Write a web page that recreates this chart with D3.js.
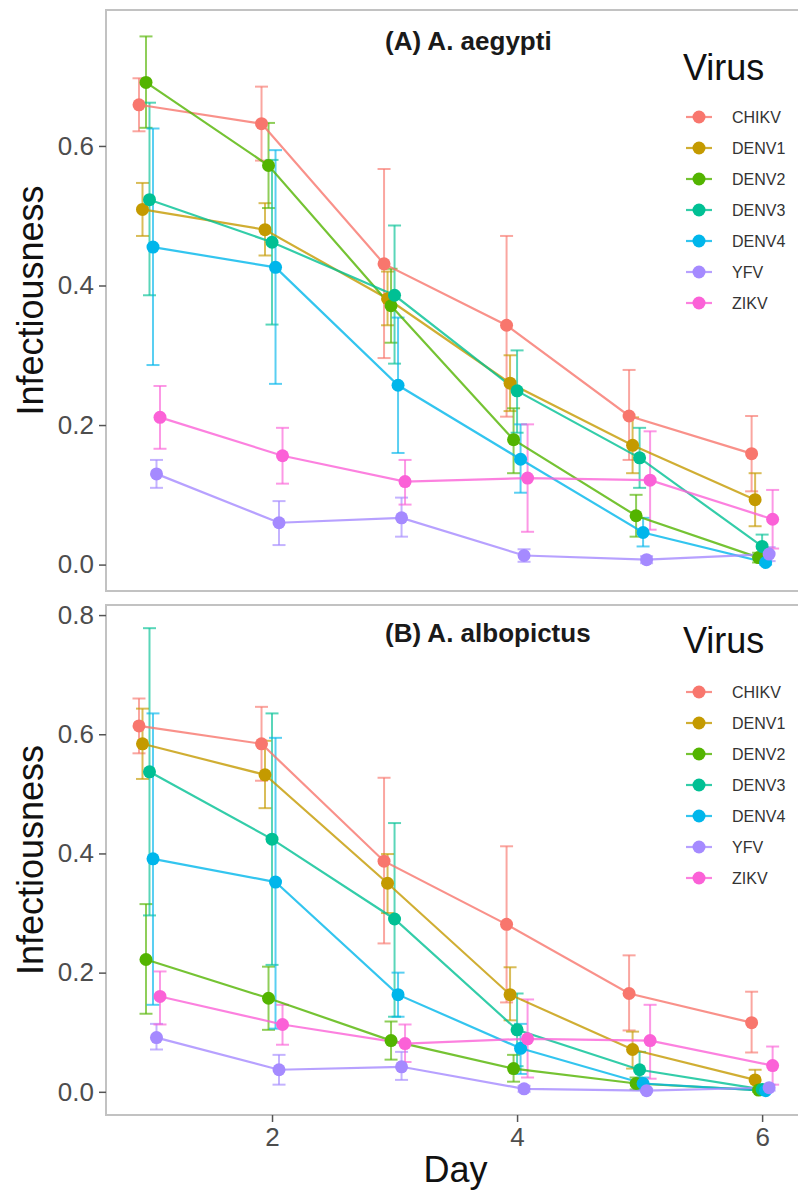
<!DOCTYPE html>
<html>
<head>
<meta charset="utf-8">
<script src="https://cdn.jsdelivr.net/npm/d3@7"></script>
<style>
  body { margin: 0; background: #fff; }
  text { font-family: "Liberation Sans", Arial, sans-serif; }
</style>
</head>
<body>
<div id="chart"></div>
<script>
var days = [1, 2, 3, 4, 5, 6];
var viruses = ["CHIKV", "DENV1", "DENV2", "DENV3", "DENV4", "YFV", "ZIKV"];
var virusColors = ["#F8766D", "#C49A00", "#53B400", "#00C094", "#00B6EB", "#A58AFF", "#FB61D7"];
var yTicks = [0, 0.2, 0.4, 0.6, 0.8];
var xTicks = [2, 4, 6];
var panelTitles = ["(A) A. aegypti", "(B) A. albopictus"];

// rows follow the viruses array, columns follow days
var aegyptiMean = [
  [0.659, 0.632, 0.431, 0.343, 0.213, 0.159],
  [0.509, 0.480, 0.381, 0.260, 0.171, 0.093],
  [0.691, 0.572, 0.371, 0.179, 0.070, 0.010],
  [0.523, 0.462, 0.386, 0.249, 0.153, 0.026],
  [0.455, 0.426, 0.257, 0.151, 0.046, 0.003],
  [0.130, 0.060, 0.067, 0.013, 0.007, 0.015],
  [0.211, 0.156, 0.119, 0.124, 0.121, 0.065]
];
var aegyptiLow = [
  [0.621, 0.579, 0.296, 0.212, 0.150, 0.105],
  [0.471, 0.443, 0.343, 0.220, 0.131, 0.055],
  [0.626, 0.511, 0.318, 0.131, 0.040, 0.003],
  [0.386, 0.344, 0.288, 0.189, 0.110, 0.009],
  [0.286, 0.259, 0.160, 0.103, 0.026, 0.000],
  [0.110, 0.028, 0.040, 0.004, 0.002, 0.005],
  [0.166, 0.116, 0.086, 0.047, 0.050, 0.023]
];
var aegyptiHigh = [
  [0.697, 0.685, 0.567, 0.471, 0.279, 0.213],
  [0.547, 0.518, 0.420, 0.300, 0.211, 0.131],
  [0.757, 0.633, 0.424, 0.224, 0.100, 0.017],
  [0.662, 0.580, 0.486, 0.307, 0.196, 0.043],
  [0.625, 0.594, 0.354, 0.201, 0.067, 0.008],
  [0.150, 0.091, 0.096, 0.022, 0.012, 0.025],
  [0.256, 0.196, 0.150, 0.201, 0.191, 0.107]
];

var albopictusMean = [
  [0.614, 0.584, 0.387, 0.281, 0.165, 0.116],
  [0.584, 0.532, 0.350, 0.163, 0.071, 0.020],
  [0.222, 0.157, 0.086, 0.039, 0.014, 0.003],
  [0.537, 0.424, 0.290, 0.104, 0.037, 0.004],
  [0.391, 0.352, 0.163, 0.073, 0.014, 0.002],
  [0.091, 0.037, 0.042, 0.005, 0.002, 0.007],
  [0.160, 0.113, 0.081, 0.089, 0.086, 0.044]
];
var albopictusLow = [
  [0.568, 0.522, 0.249, 0.150, 0.103, 0.066],
  [0.525, 0.476, 0.300, 0.120, 0.039, 0.003],
  [0.131, 0.104, 0.054, 0.017, 0.004, 0.000],
  [0.296, 0.213, 0.126, 0.043, 0.007, 0.000],
  [0.146, 0.106, 0.126, 0.030, 0.004, 0.000],
  [0.071, 0.012, 0.020, 0.000, 0.000, 0.002],
  [0.113, 0.079, 0.050, 0.024, 0.022, 0.012]
];
var albopictusHigh = [
  [0.660, 0.646, 0.527, 0.412, 0.229, 0.168],
  [0.643, 0.589, 0.399, 0.209, 0.101, 0.037],
  [0.315, 0.210, 0.118, 0.062, 0.024, 0.007],
  [0.778, 0.635, 0.451, 0.165, 0.067, 0.010],
  [0.635, 0.594, 0.200, 0.114, 0.024, 0.005],
  [0.114, 0.062, 0.067, 0.010, 0.005, 0.012],
  [0.202, 0.146, 0.113, 0.155, 0.146, 0.076]
];

var width = 798, height = 1197;

var svg = d3.select("#chart").append("svg")
    .attr("width", width)
    .attr("height", height);

var x = d3.scaleLinear().domain([0.645, 6.35]).range([106, 805]);
var dodge = 0.2 / viruses.length;

function xPos(day, i) {
  return x(day + (i - (viruses.length - 1) / 2) * dodge);
}

function drawPanel(p) {
  var lo = d3.min(p.low, function(r) { return d3.min(r); });
  var hi = d3.max(p.high, function(r) { return d3.max(r); });
  var pad = (hi - lo) * 0.05;
  var y = d3.scaleLinear().domain([lo - pad, hi + pad]).range([p.bottom, p.top]);

  svg.append("clipPath").attr("id", "clip" + p.id)
    .append("rect")
      .attr("x", x.range()[0]).attr("y", p.top)
      .attr("width", x.range()[1] - x.range()[0]).attr("height", p.bottom - p.top);

  var graph = svg.append("g").attr("clip-path", "url(#clip" + p.id + ")");

  // error bars
  viruses.forEach(function(v, i) {
    var eb = graph.append("g")
        .attr("stroke", virusColors[i])
        .attr("stroke-width", 2)
        .attr("stroke-opacity", 0.65);
    days.forEach(function(d, j) {
      var cx = xPos(d, i);
      eb.append("line").attr("x1", cx).attr("x2", cx)
        .attr("y1", y(p.low[i][j])).attr("y2", y(p.high[i][j]));
      eb.append("line").attr("x1", cx - 6.5).attr("x2", cx + 6.5)
        .attr("y1", y(p.low[i][j])).attr("y2", y(p.low[i][j]));
      eb.append("line").attr("x1", cx - 6.5).attr("x2", cx + 6.5)
        .attr("y1", y(p.high[i][j])).attr("y2", y(p.high[i][j]));
    });
  });

  // lines
  viruses.forEach(function(v, i) {
    var line = d3.line()
        .x(function(d, j) { return xPos(days[j], i); })
        .y(function(d) { return y(d); });
    graph.append("path")
        .attr("d", line(p.mean[i]))
        .attr("fill", "none")
        .attr("stroke", virusColors[i])
        .attr("stroke-width", 2.2)
        .attr("stroke-opacity", 0.8);
  });

  // points
  viruses.forEach(function(v, i) {
    graph.selectAll(".pt" + i)
        .data(p.mean[i])
        .enter().append("circle")
        .attr("cx", function(d, j) { return xPos(days[j], i); })
        .attr("cy", function(d) { return y(d); })
        .attr("r", 6.5)
        .style("fill", virusColors[i]);
  });

  // panel border
  svg.append("rect")
      .attr("x", x.range()[0]).attr("y", p.top)
      .attr("width", x.range()[1] - x.range()[0]).attr("height", p.bottom - p.top)
      .attr("fill", "none")
      .attr("stroke", "#c2c2c2")
      .attr("stroke-width", 2);

  // y axis
  var yAxis = svg.append("g")
      .attr("transform", "translate(" + x.range()[0] + ",0)")
      .call(d3.axisLeft(y)
        .tickValues(yTicks.filter(function(t) { return t >= y.domain()[0] && t <= y.domain()[1]; }))
        .tickSize(7).tickPadding(5)
        .tickFormat(d3.format(".1f")));
  yAxis.select(".domain").remove();
  yAxis.selectAll("line").attr("stroke", "#555").attr("stroke-width", 1.5);
  yAxis.selectAll("text").attr("fill", "#4d4d4d").style("font-size", "26px");

  svg.append("text")
      .attr("transform", "translate(43," + ((p.top + p.bottom) / 2) + ") rotate(-90)")
      .attr("text-anchor", "middle")
      .style("font-size", "36px")
      .attr("fill", "#111")
      .text("Infectiousness");

  // panel title
  svg.append("text")
      .attr("x", 385).attr("y", p.titleY)
      .style("font-size", "26px")
      .style("font-weight", "bold")
      .attr("fill", "#1a1a1a")
      .text(p.title);

  // legend
  var legend = svg.append("g").attr("class", "legend");
  legend.append("text")
      .attr("x", 683).attr("y", p.legendTitleY)
      .style("font-size", "36px")
      .attr("fill", "#111")
      .text("Virus");

  legend.selectAll("g.key").data(viruses)
      .enter().append("g")
      .attr("class", "key")
      .each(function(d, i) {
        var g = d3.select(this);
        var ky = p.legendFirstY + i * 31;
        g.append("line")
          .attr("x1", 686).attr("x2", 712)
          .attr("y1", ky).attr("y2", ky)
          .attr("stroke", virusColors[i])
          .attr("stroke-width", 2.2)
          .attr("stroke-opacity", 0.8);
        g.append("circle")
          .attr("cx", 699).attr("cy", ky)
          .attr("r", 6.5)
          .style("fill", virusColors[i]);
        g.append("text")
          .attr("x", 732).attr("y", ky)
          .attr("dy", "0.35em")
          .style("font-size", "16px")
          .attr("fill", "#333")
          .text(d);
      });

  return y;
}

drawPanel({id: "A", title: panelTitles[0], top: 10, bottom: 591,
  mean: aegyptiMean, low: aegyptiLow, high: aegyptiHigh,
  titleY: 50, legendTitleY: 80, legendFirstY: 117});

drawPanel({id: "B", title: panelTitles[1], top: 605, bottom: 1115,
  mean: albopictusMean, low: albopictusLow, high: albopictusHigh,
  titleY: 642, legendTitleY: 653, legendFirstY: 692});

// x axis (bottom panel only)
var xAxis = svg.append("g")
    .attr("transform", "translate(0,1115)")
    .call(d3.axisBottom(x).tickValues(xTicks).tickSize(7).tickPadding(6).tickFormat(d3.format("d")));
xAxis.select(".domain").remove();
xAxis.selectAll("line").attr("stroke", "#555").attr("stroke-width", 1.5);
xAxis.selectAll("text").attr("fill", "#4d4d4d").style("font-size", "26px");

svg.append("text")
    .attr("x", (x.range()[0] + x.range()[1]) / 2)
    .attr("y", 1182)
    .attr("text-anchor", "middle")
    .style("font-size", "36px")
    .attr("fill", "#111")
    .text("Day");
</script>
</body>
</html>
